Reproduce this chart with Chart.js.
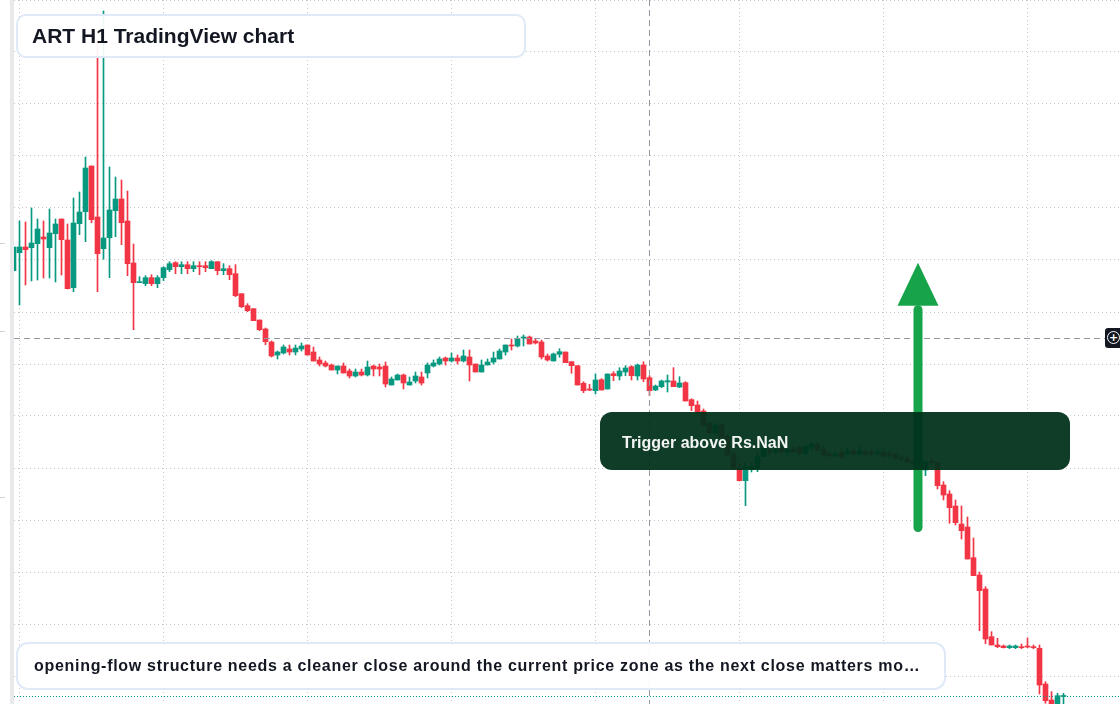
<!DOCTYPE html>
<html>
<head>
<meta charset="utf-8">
<title>ART H1</title>
<script src="https://cdn.jsdelivr.net/npm/chart.js@4.4.1/dist/chart.umd.min.js"></script>
<style>
  html, body { margin: 0; padding: 0; background: #fff; }
  #wrap { position: relative; width: 1120px; height: 704px; overflow: hidden; font-family: "Liberation Sans", Arial, sans-serif; }
  #chart { position: absolute; left: 0; top: 0; }
  .strip { position: absolute; left: 10px; top: 0; width: 4px; height: 704px; background: #e9e9eb; }
  .tick { position: absolute; left: 0; width: 5px; height: 1px; background: #cfd2d6; }
  .card { position: absolute; box-sizing: border-box; border: 2px solid #dfe9f8; background: rgba(255,255,255,0.93);
          display: flex; align-items: center; color: #131722; font-weight: 700; white-space: nowrap; overflow: hidden; }
  .title { left: 16px; top: 14px; width: 510px; height: 44px; border-radius: 10px; padding-left: 14px; font-size: 21px; }
  .note { left: 16px; top: 642px; width: 930px; height: 48px; border-radius: 12px; padding-left: 16px; font-size: 16px; letter-spacing: 0.7px; }
  .trigger { position: absolute; left: 600px; top: 412px; width: 470px; height: 58px; box-sizing: border-box; border-radius: 12px;
             background: rgba(0,49,27,0.94); color: #f3f6f4; font-weight: 700; font-size: 16px; padding: 3px 0 0 22px;
             display: flex; align-items: center; }
  .cross { position: absolute; left: 1105px; top: 328px; width: 18px; height: 20px; background: #131722; border-radius: 3px 0 0 3px; }
  .cross span { position: absolute; left: 2px; top: 3px; width: 11px; height: 11px; border: 1.5px solid #fff; border-radius: 50%;
                color: #fff; font: 700 11px/11px "DejaVu Sans", sans-serif; text-align: center; }
</style>
</head>
<body>
<div id="wrap">
  <canvas id="chart" width="1120" height="704"></canvas>
  <div class="strip"></div>
  <div class="tick" style="top:243px"></div>
  <div class="tick" style="top:331px"></div>
  <div class="tick" style="top:497px"></div>
  <div class="card title">ART H1 TradingView chart</div>
  <div class="trigger">Trigger above Rs.NaN</div>
  <div class="card note">opening-flow structure needs a cleaner close around the current price zone as the next close matters mo…</div>
  <div class="cross"><span>+</span></div>
</div>
<script>
// CANDLES (H1, oldest first)
const opens = [
  108.33, 112.83, 114.25, 114.08, 115.08, 116.75, 114.08, 117.58, 121.25, 116, 104.08, 120.08,
  123.08, 134.5, 121.75, 113.83, 116.58, 123.33, 126.25, 120.75, 110.25, 105.33, 105.08, 106.58,
  105.08, 106.58, 108.58, 110.33, 109.33, 109.83, 108.83, 109.58, 109.58, 108.83, 110.58, 108.33,
  108.83, 107.58, 102.58, 99.58, 98.83, 96, 93.75, 90.5, 87.25, 87.75, 88.75, 88,
  88.75, 89.75, 88, 86, 85.25, 84.75, 83.5, 84.5, 83.25, 82, 83, 82.25,
  84.5, 84.25, 84.5, 79.75, 81, 82.25, 79.75, 80.75, 81.75, 82.75, 84.5, 85,
  86.5, 85.75, 86.5, 85.75, 86.75, 85, 83, 84.75, 85.5, 86.25, 88, 89.75,
  89.5, 91.5, 91.75, 90.75, 90.5, 87, 85.75, 87.43, 88, 85.58, 84.58, 80.18,
  78.75, 78.33, 81.08, 78.75, 82.58, 82, 83, 84.33, 82, 84.75, 81.58, 78.5,
  79.33, 80.5, 80.75, 79.25, 80.33, 76.08, 74.75, 73.25, 70.18, 67.75, 69.75, 66.83,
  62.25, 58.93, 55.83, 58.68, 58.93, 61.83, 63.25, 63, 63.93, 63, 63.68, 64.08,
  62.68, 64.18, 64.75, 63.68, 62.25, 62.08, 62.83, 62.75, 63.08, 62.5, 63.08, 62.83,
  62.75, 62.83, 62.43, 62.25, 61.43, 61.18, 60.58, 60.25, 58.5, 60.58, 60.33, 54.75,
  52.5, 49.5, 45, 44.25, 36.58, 32.25, 28.75, 16.83, 14.75, 14.5, 14.08, 14.08,
  14.33, 14.5, 14.33, 13.93, 5, 1, -1, 1.88
];
const highs = [
  114.25, 120.75, 120.5, 124, 121.25, 120.75, 123.75, 121.25, 121.25, 120, 126.5, 128,
  136.75, 134.5, 166, 173.25, 134.25, 131.75, 131, 128.25, 115, 106.83, 107.08, 107.33,
  107.08, 109.33, 110.58, 110.58, 110.58, 110.58, 110.58, 110.58, 110.58, 110.83, 110.58, 110.08,
  109.58, 109.83, 102.58, 100.08, 98.83, 96, 94, 90.75, 88.25, 89.75, 89.75, 89.75,
  90.25, 89.75, 89.25, 86.75, 85.75, 85, 84.5, 85.25, 83.75, 83.75, 83.75, 85.75,
  84.75, 85, 85.5, 81.75, 82.5, 82.5, 81.75, 83, 83, 85.25, 86, 86.75,
  86.75, 87.75, 87.25, 88.5, 88.5, 85, 86, 86.25, 88, 88.75, 89.75, 91.25,
  92, 92.25, 92, 91.25, 91, 87.5, 87.75, 88.83, 88, 85.58, 84.58, 80.58,
  79.93, 82.5, 81.33, 82.5, 83.08, 84.08, 84.58, 84.58, 85, 85.58, 82.08, 79.75,
  81, 82.25, 84.08, 81.83, 80.58, 76.33, 75.75, 73.75, 70.5, 70.25, 70, 67.25,
  63, 60, 60.18, 60.5, 62.68, 64.33, 64, 64.25, 64.25, 64, 64.25, 64.5,
  64.5, 65.33, 65.33, 64.33, 62.83, 62.83, 63.68, 63.93, 63.68, 64.75, 63.5, 63.5,
  63.5, 63.5, 63.08, 62.75, 62, 62, 61, 60.75, 60.58, 61.25, 60.33, 55.58,
  53.33, 51, 49.5, 46.75, 41.5, 33, 29.33, 18.08, 16.43, 14.75, 14.75, 14.75,
  15, 16.5, 14.75, 14.75, 5.58, 3.08, 2.68, 2.68
];
const lows = [
  108.25, 99.75, 104.75, 105.75, 106, 106.5, 106.5, 105.5, 107.25, 103.75, 103.08, 117.33,
  115.58, 120.33, 103.08, 111.18, 106.58, 116.83, 114.83, 107.08, 93.58, 105.33, 104.58, 104.58,
  104.08, 105.83, 108.08, 107.58, 107.58, 107.58, 108.08, 107.33, 108.08, 108.83, 107.33, 107.33,
  106.08, 101.83, 99.08, 98.08, 95.83, 93.33, 89.83, 86.75, 86.25, 87.5, 87.25, 87.25,
  88.25, 87.25, 85.75, 84.5, 84.25, 83.5, 82.5, 82.75, 81.5, 81.75, 82, 82,
  82, 82, 79.25, 79.75, 81, 78.75, 79.75, 80.25, 79.75, 81.5, 84.25, 84.75,
  84.75, 85.5, 85, 85.5, 80.75, 83, 83, 84.75, 85, 86.25, 87.25, 88.5,
  89.25, 89.5, 90, 90, 86.25, 85.75, 85.75, 86.68, 85.33, 82.68, 79.75, 77.83,
  78.33, 77.5, 78.5, 78.75, 80.83, 81, 82.08, 81, 81, 80.58, 77.08, 78.33,
  79.08, 78, 79.33, 79.08, 75.75, 73.33, 72.68, 69.5, 67.5, 67.5, 66.5, 62,
  58.75, 55.75, 49.58, 58, 58.08, 61.75, 62.25, 62.5, 62.75, 62.5, 62.75, 62.25,
  62.5, 63.5, 63.25, 62, 61.68, 61.75, 61.43, 62.25, 62.25, 62.25, 62.25, 62,
  62.25, 61.83, 61.68, 61.25, 60.75, 60.33, 59.75, 58.5, 57.08, 60, 53.75, 51,
  45.18, 44.75, 41.25, 36.25, 32.08, 18.33, 15.08, 14.75, 14.08, 14, 13.83, 13.83,
  13.83, 14.08, 13.83, 2.5, 0.18, -1, -1.5, 0
];
const closes = [
  114.25, 114.25, 113.58, 115.25, 118.75, 116.25, 117.75, 120, 116.08, 103.83, 120.25, 123,
  134, 121.08, 112.58, 116.5, 123.5, 126.25, 120.33, 110.08, 105.33, 105.58, 106.58, 105.08,
  106.58, 109.08, 110.08, 109.33, 109.83, 108.83, 109.58, 109.33, 109.08, 110.58, 108.33, 108.83,
  107.33, 102.08, 99.33, 98.33, 95.83, 93.58, 90.58, 87, 88, 89.25, 88, 89,
  89.5, 87.25, 85.75, 85, 84.5, 83.5, 84.5, 82.75, 82, 83, 82.25, 84.25,
  83.75, 83.75, 80, 81.25, 82.25, 80.25, 80.5, 82, 80.25, 84.75, 85.25, 86.25,
  85.75, 86.5, 85.75, 87, 84.75, 83, 84.75, 85.5, 86.5, 88.25, 89.75, 89.5,
  91.25, 91.75, 90, 90.25, 86.75, 86, 87.5, 88.08, 85.33, 84.58, 79.75, 78.33,
  78.5, 81, 78.5, 82.5, 82.08, 83.25, 84, 82.08, 84.75, 81.25, 78.33, 79.5,
  80.75, 80.83, 79.33, 80.25, 75.75, 74.58, 73.08, 69.75, 67.83, 69.75, 66.68, 62.25,
  58.93, 55.83, 59.33, 59.33, 61.83, 63.93, 63, 63.5, 63.08, 63.5, 63.08, 62.68,
  64.33, 64.93, 63.5, 62.25, 62.08, 62.25, 61.83, 62.83, 62.5, 63.33, 62.5, 62.75,
  62.93, 62, 62.25, 61.43, 61.25, 60.43, 60.18, 58.75, 60.58, 60.43, 54.58, 52.25,
  49.08, 45.33, 43.33, 36.25, 32.08, 28.33, 16.25, 14.75, 14.33, 14.08, 14.5, 14.5,
  14.08, 14.25, 14.08, 4.75, 0.83, -0.5, 2.08, 2
];

// grid positions (no labels shown in the crop)
const gridPrices = [176, 163, 150, 137, 124, 111, 98, 85, 72, 59, 46, 33, 20, 7];
const gridCandles = [1, 25, 49, 73, 97, 121, 145, 169];

// crosshair + annotation
const crossIndex = 106;
const crossPrice = 91.5;
const arrowIndex = 150.75;
const arrowTail = 44.13;
const arrowBase = 99.58;
const arrowTip = 110.33;

const UP = "#089981";
const DOWN = "#f23645";

const candleColors = opens.map((o, i) => closes[i] >= o ? UP : DOWN);
const wickData = opens.map((o, i) => ({ x: i, y: [lows[i], highs[i]] }));
const bodyData = opens.map((o, i) => ({ x: i, y: [o, closes[i]] }));

// DRAW EXTRAS
const extras = {
  id: "extras",
  afterDatasetsDraw(chart) {
    const { ctx, chartArea: a, scales: { x, y } } = chart;
    ctx.save();

    // last price line
    const py = Math.floor(y.getPixelForValue(closes[closes.length - 1])) + 0.5;
    ctx.strokeStyle = UP;
    ctx.lineWidth = 1;
    ctx.setLineDash([1, 2]);
    ctx.beginPath();
    ctx.moveTo(a.left, py);
    ctx.lineTo(a.right, py);
    ctx.stroke();

    // crosshair
    const cx = Math.floor(x.getPixelForValue(crossIndex)) + 0.5;
    const cy = Math.floor(y.getPixelForValue(crossPrice)) + 0.5;
    ctx.strokeStyle = "#9598a1";
    ctx.setLineDash([6, 4]);
    ctx.beginPath();
    ctx.moveTo(cx, a.top);
    ctx.lineTo(cx, a.bottom);
    ctx.moveTo(a.left, cy);
    ctx.lineTo(a.right, cy);
    ctx.stroke();

    // green arrow
    const ax = x.getPixelForValue(arrowIndex);
    const tail = y.getPixelForValue(arrowTail);
    const base = y.getPixelForValue(arrowBase);
    const tip = y.getPixelForValue(arrowTip);
    ctx.setLineDash([]);
    ctx.strokeStyle = "#16a34a";
    ctx.fillStyle = "#16a34a";
    ctx.lineWidth = 9;
    ctx.lineCap = "round";
    ctx.beginPath();
    ctx.moveTo(ax, tail);
    ctx.lineTo(ax, base + 4);
    ctx.stroke();
    ctx.beginPath();
    ctx.moveTo(ax, tip);
    ctx.lineTo(ax + 20.5, base);
    ctx.lineTo(ax - 20.5, base);
    ctx.closePath();
    ctx.fill();

    ctx.restore();
  }
};

const gridStyle = { color: "#c5c8cd", lineWidth: 1, drawTicks: false, offset: false };

new Chart(document.getElementById("chart"), {
  type: "bar",
  data: {
    datasets: [
      {
        data: wickData,
        backgroundColor: candleColors,
        barThickness: 1,
        minBarLength: 1,
        grouped: false,
        borderWidth: 0,
        clip: 0
      },
      {
        data: bodyData,
        backgroundColor: candleColors,
        barThickness: 5,
        minBarLength: 1,
        grouped: false,
        borderWidth: 0,
        clip: 0
      }
    ]
  },
  options: {
    responsive: false,
    animation: false,
    events: [],
    layout: { padding: { left: 14, top: 0, right: 0, bottom: 0 } },
    plugins: { legend: { display: false }, tooltip: { enabled: false } },
    scales: {
      x: {
        type: "linear",
        min: 1 / 12,
        max: 1 / 12 + 1106 / 6,
        offset: false,
        ticks: { display: false },
        grid: gridStyle,
        border: { display: false, dash: [1, 3] },
        afterBuildTicks: s => { s.ticks = gridCandles.map(v => ({ value: v })); }
      },
      y: {
        min: 0,
        max: 176,
        ticks: { display: false },
        grid: gridStyle,
        border: { display: false, dash: [1, 3] },
        afterBuildTicks: s => { s.ticks = gridPrices.map(v => ({ value: v })); }
      }
    }
  },
  plugins: [extras]
});
</script>
</body>
</html>
